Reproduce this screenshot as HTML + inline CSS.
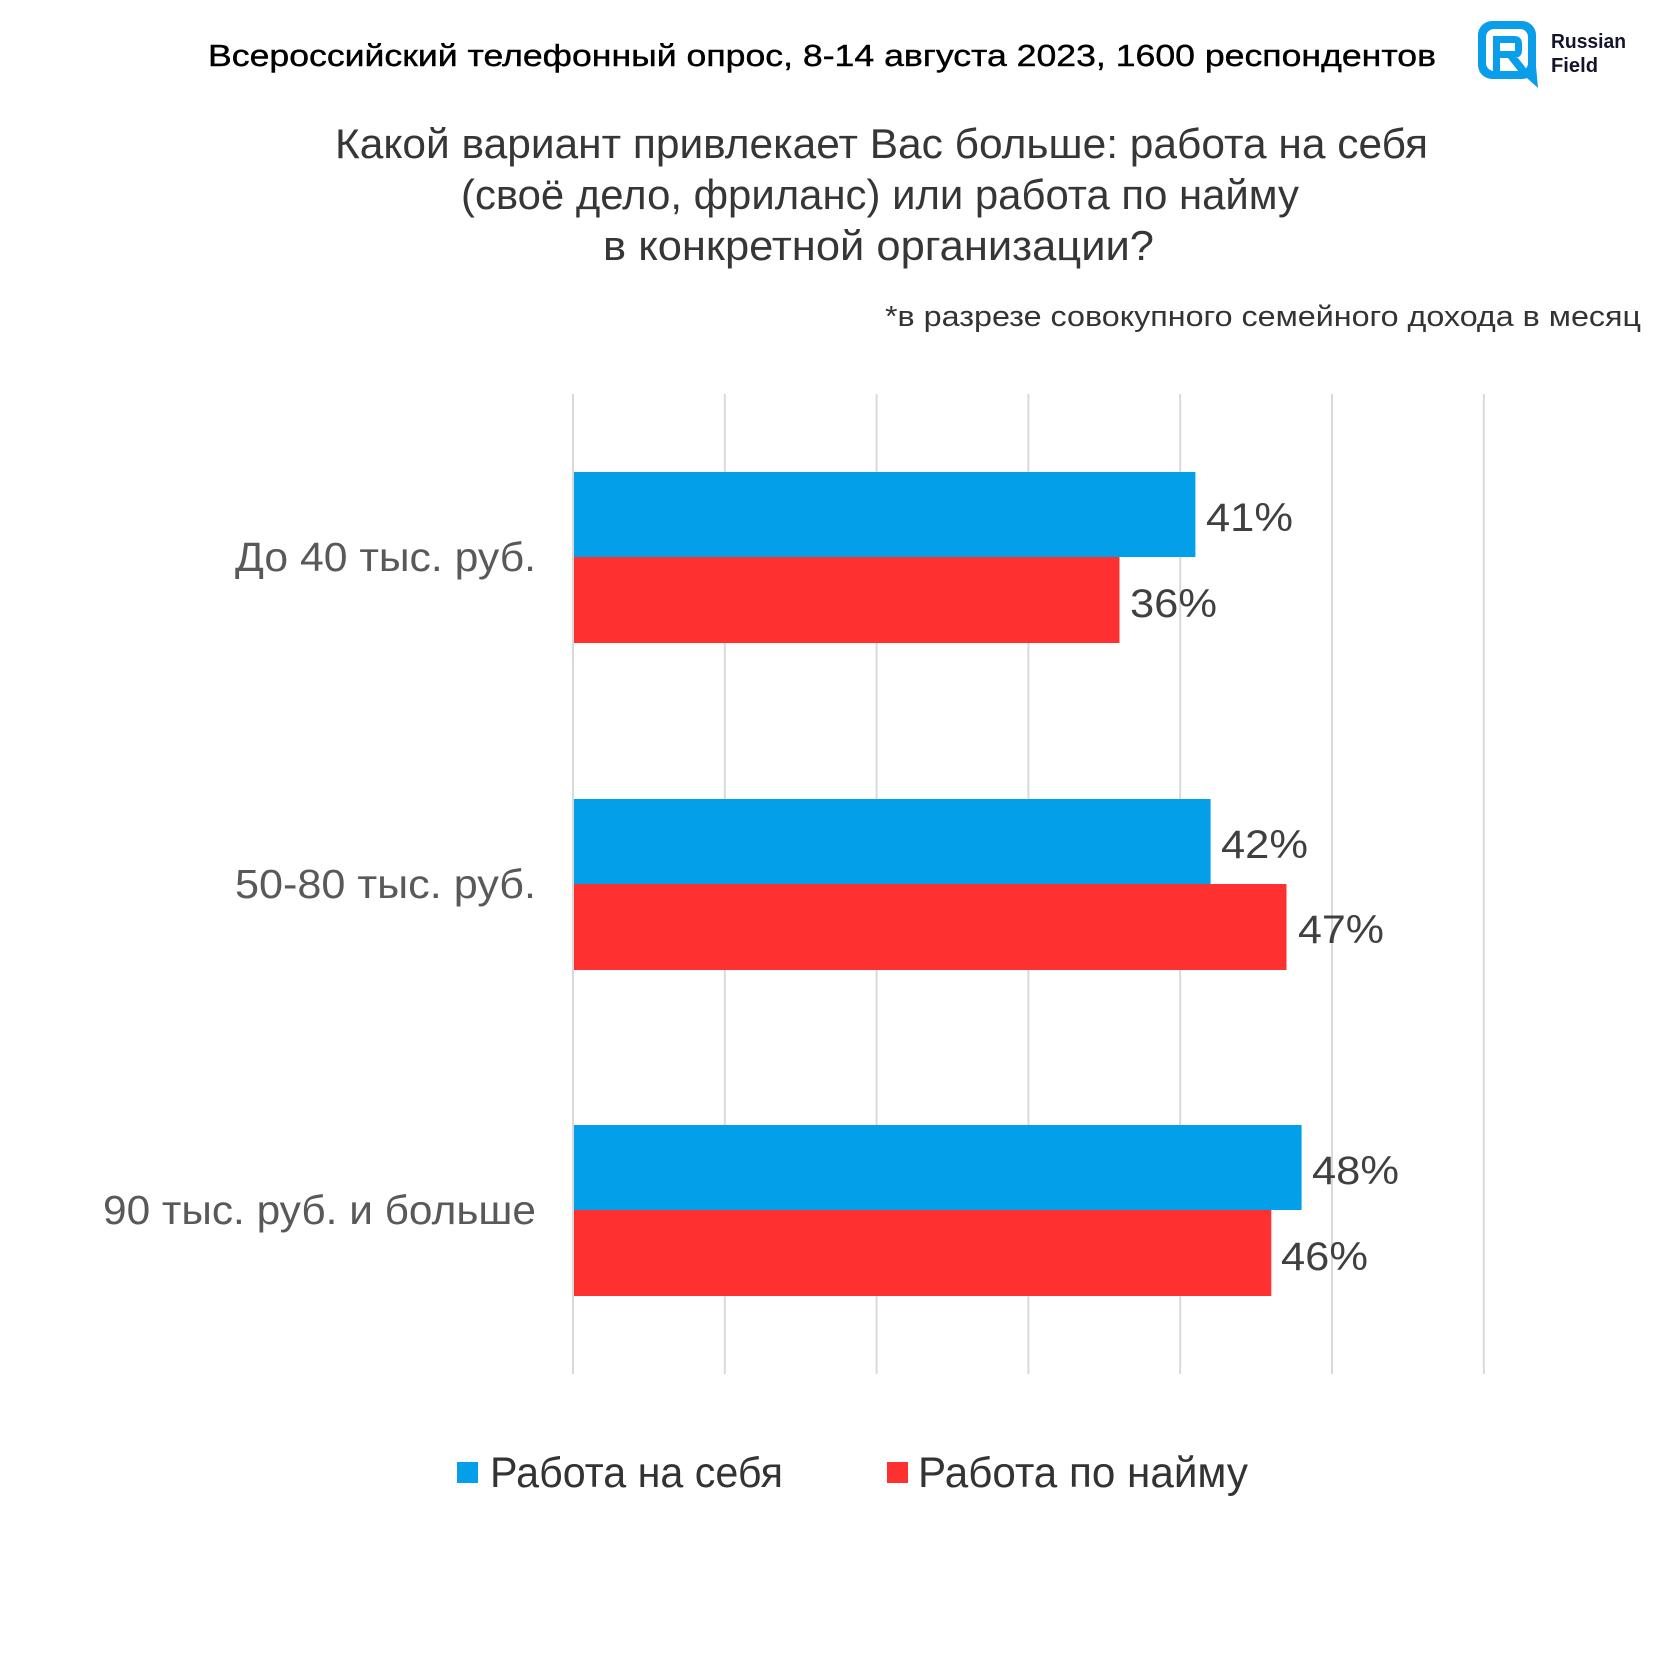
<!DOCTYPE html>
<html>
<head>
<meta charset="utf-8">
<style>
html,body{margin:0;padding:0;background:#fff;}
svg{display:block;}
text{font-family:"Liberation Sans","Noto Sans CJK SC",sans-serif;}
</style>
</head>
<body>
<svg width="1680" height="1680" viewBox="0 0 1680 1680" xmlns="http://www.w3.org/2000/svg">
<rect x="0" y="0" width="1680" height="1680" fill="#ffffff"/>

<!-- Header -->
<text x="208" y="66" font-size="31" fill="#000" stroke="#000" stroke-width="0.4" textLength="1228" lengthAdjust="spacingAndGlyphs">Всероссийский телефонный опрос, 8-14 августа 2023, 1600 респондентов</text>

<!-- Logo -->
<g>
  <rect x="1478" y="21" width="58" height="58" rx="14" fill="#0a9de9"/>
  <polygon points="1518,70 1536,66 1538,88" fill="#0a9de9"/>
  <rect x="1486" y="29" width="42" height="42" rx="8" fill="#fff"/>
  <path d="M1493,36 H1514 Q1522,36 1522,44 V50 Q1522,58 1514,58 H1500 V71 H1493 Z" fill="#0a9de9"/>
  <rect x="1500" y="43" width="15" height="8" fill="#fff"/>
  <polygon points="1508,58 1518,58 1532,76 1522,76" fill="#0a9de9"/>
</g>
<text x="1551" y="48" font-size="20" font-weight="bold" fill="#14142b" textLength="75" lengthAdjust="spacingAndGlyphs">Russian</text>
<text x="1551" y="72" font-size="20" font-weight="bold" fill="#14142b" textLength="47" lengthAdjust="spacingAndGlyphs">Field</text>

<!-- Title -->
<text x="335" y="158" font-size="42" fill="#363636" textLength="1093" lengthAdjust="spacingAndGlyphs">Какой вариант привлекает Вас больше: работа на себя</text>
<text x="461" y="209" font-size="42" fill="#363636" textLength="838" lengthAdjust="spacingAndGlyphs">(своё дело, фриланс) или работа по найму</text>
<text x="603" y="260" font-size="42" fill="#363636" textLength="551" lengthAdjust="spacingAndGlyphs">в конкретной организации?</text>

<!-- Subtitle -->
<text x="885" y="326" font-size="29" fill="#333" textLength="756" lengthAdjust="spacingAndGlyphs">*в разрезе совокупного семейного дохода в месяц</text>

<!-- Gridlines -->
<g stroke="#d9d9d9" stroke-width="2">
  <line x1="573" y1="394" x2="573" y2="1374"/>
  <line x1="724.8" y1="394" x2="724.8" y2="1374"/>
  <line x1="876.6" y1="394" x2="876.6" y2="1374"/>
  <line x1="1028.4" y1="394" x2="1028.4" y2="1374"/>
  <line x1="1180.2" y1="394" x2="1180.2" y2="1374"/>
  <line x1="1332" y1="394" x2="1332" y2="1374"/>
  <line x1="1483.8" y1="394" x2="1483.8" y2="1374"/>
</g>

<!-- Bars group 1 -->
<rect x="574" y="472" width="621.4" height="85" fill="#039fe9"/>
<rect x="574" y="557" width="545.5" height="86" fill="#ff3030"/>
<!-- Bars group 2 -->
<rect x="574" y="799" width="636.6" height="85" fill="#039fe9"/>
<rect x="574" y="884" width="712.5" height="86" fill="#ff3030"/>
<!-- Bars group 3 -->
<rect x="574" y="1125" width="727.6" height="85" fill="#039fe9"/>
<rect x="574" y="1210" width="697.3" height="86" fill="#ff3030"/>

<!-- Value labels -->
<g font-size="40" fill="#404040">
  <text x="1206" y="531" textLength="87" lengthAdjust="spacingAndGlyphs">41%</text>
  <text x="1130" y="617" textLength="87" lengthAdjust="spacingAndGlyphs">36%</text>
  <text x="1221" y="858" textLength="87" lengthAdjust="spacingAndGlyphs">42%</text>
  <text x="1298" y="943" textLength="86" lengthAdjust="spacingAndGlyphs">47%</text>
  <text x="1312" y="1184" textLength="87" lengthAdjust="spacingAndGlyphs">48%</text>
  <text x="1281" y="1270" textLength="87" lengthAdjust="spacingAndGlyphs">46%</text>
</g>

<!-- Category labels -->
<g font-size="41" fill="#595959">
  <text x="235" y="571" textLength="301" lengthAdjust="spacingAndGlyphs">До 40 тыс. руб.</text>
  <text x="235" y="898" textLength="301" lengthAdjust="spacingAndGlyphs">50-80 тыс. руб.</text>
  <text x="103" y="1224" textLength="433" lengthAdjust="spacingAndGlyphs">90 тыс. руб. и больше</text>
</g>

<!-- Legend -->
<rect x="457" y="1462" width="21" height="21" fill="#039fe9"/>
<text x="490" y="1487" font-size="43" fill="#333" textLength="293" lengthAdjust="spacingAndGlyphs">Работа на себя</text>
<rect x="887" y="1462" width="21" height="21" fill="#ff3030"/>
<text x="918" y="1487" font-size="43" fill="#333" textLength="330" lengthAdjust="spacingAndGlyphs">Работа по найму</text>
</svg>
</body>
</html>
